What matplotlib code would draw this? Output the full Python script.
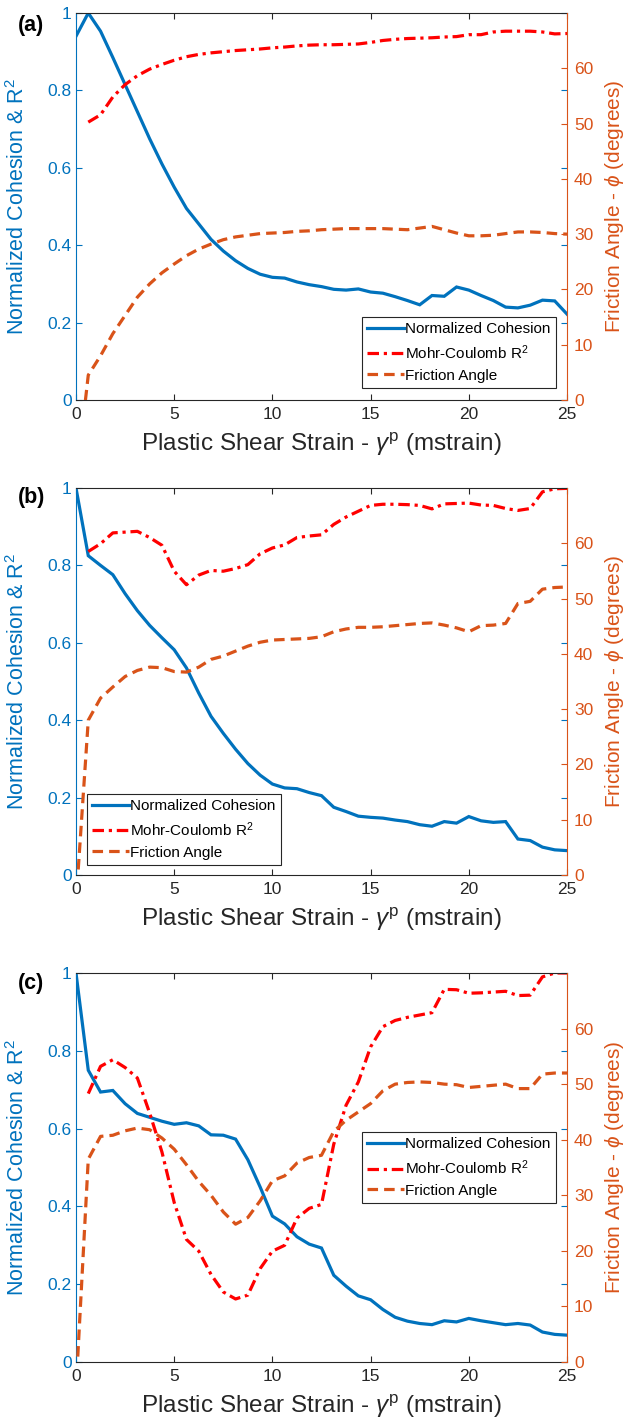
import matplotlib
matplotlib.use("Agg")
import matplotlib.pyplot as plt
import numpy as np

plt.rcParams['font.family'] = ['Liberation Sans', 'DejaVu Sans']
plt.rcParams['mathtext.fontset'] = 'custom'
plt.rcParams['mathtext.rm'] = 'Liberation Sans'
plt.rcParams['mathtext.it'] = 'Liberation Sans:italic'
plt.rcParams['mathtext.bf'] = 'Liberation Sans:bold'

# plastic shear strain (mstrain)
strain = np.linspace(0, 25, 41)

# ---- (a) ----
cohesion_a = [0.94, 1.0, 0.953, 0.885, 0.815, 0.745, 0.675, 0.61, 0.55, 0.495,
              0.455, 0.415, 0.385, 0.36, 0.34, 0.325, 0.317, 0.315, 0.305, 0.298,
              0.293, 0.286, 0.284, 0.287, 0.279, 0.276, 0.267, 0.257, 0.246, 0.270,
              0.268, 0.292, 0.284, 0.270, 0.257, 0.240, 0.238, 0.245, 0.258, 0.256,
              0.222]
r2_a = [np.nan, 0.718, 0.737, 0.783, 0.815, 0.838, 0.855, 0.867, 0.878, 0.887,
        0.893, 0.897, 0.900, 0.903, 0.905, 0.907, 0.910, 0.912, 0.915, 0.917,
        0.918, 0.918, 0.919, 0.920, 0.924, 0.929, 0.932, 0.934, 0.935, 0.936,
        0.938, 0.939, 0.944, 0.944, 0.951, 0.953, 0.953, 0.953, 0.951, 0.946,
        0.947]
phi_a = [-15, 4.5, 8.0, 12.0, 15.3, 18.6, 21.0, 23.0, 24.6, 26.1,
         27.3, 28.2, 29.0, 29.5, 29.8, 30.1, 30.2, 30.3, 30.5, 30.6,
         30.8, 30.9, 31.0, 31.0, 31.0, 31.0, 30.9, 30.8, 31.1, 31.4,
         30.8, 30.2, 29.7, 29.7, 29.8, 30.1, 30.4, 30.4, 30.3, 30.1,
         30.0]

# ---- (b) ----
cohesion_b = [1.0, 0.825, 0.80, 0.776, 0.727, 0.683, 0.645, 0.613, 0.582, 0.535,
              0.47, 0.41, 0.366, 0.325, 0.288, 0.258, 0.235, 0.225, 0.223, 0.213,
              0.205, 0.175, 0.164, 0.152, 0.149, 0.147, 0.142, 0.138, 0.130, 0.126,
              0.138, 0.134, 0.151, 0.140, 0.136, 0.138, 0.093, 0.089, 0.072, 0.065,
              0.063]
r2_b = [np.nan, 0.836, 0.856, 0.884, 0.886, 0.888, 0.872, 0.852, 0.785, 0.75,
        0.775, 0.787, 0.785, 0.792, 0.802, 0.83, 0.845, 0.853, 0.872, 0.876,
        0.879, 0.906, 0.925, 0.94, 0.955, 0.958, 0.958, 0.957, 0.955, 0.946,
        0.959, 0.960, 0.961, 0.956, 0.955, 0.947, 0.942, 0.947, 0.99, 0.998,
        0.999]
phi_b = [-5, 28.0, 32.0, 34.0, 35.9, 37.0, 37.6, 37.5, 36.8, 36.7,
         37.6, 39.0, 39.6, 40.5, 41.4, 42.1, 42.5, 42.6, 42.7, 42.8,
         43.1, 44.0, 44.5, 44.8, 44.8, 44.9, 45.1, 45.3, 45.5, 45.6,
         45.2, 44.7, 44.0, 45.1, 45.2, 45.5, 49.1, 49.5, 51.7, 52.0,
         52.1]

# ---- (c) ----
cohesion_c = [1.0, 0.75, 0.694, 0.698, 0.664, 0.639, 0.629, 0.619, 0.611, 0.615,
              0.607, 0.584, 0.583, 0.573, 0.52, 0.45, 0.375, 0.355, 0.322, 0.303,
              0.293, 0.223, 0.195, 0.17, 0.16, 0.135, 0.115, 0.105, 0.099, 0.096,
              0.106, 0.103, 0.112, 0.106, 0.101, 0.096, 0.099, 0.095, 0.077, 0.071,
              0.069]
r2_c = [np.nan, 0.69, 0.76, 0.777, 0.757, 0.73, 0.64, 0.54, 0.41, 0.315,
        0.285, 0.225, 0.18, 0.162, 0.172, 0.24, 0.285, 0.30, 0.37, 0.395,
        0.405, 0.56, 0.66, 0.72, 0.81, 0.862, 0.878, 0.886, 0.892, 0.898,
        0.958, 0.957, 0.948, 0.949, 0.951, 0.953, 0.942, 0.943, 0.99, 1.0,
        1.0]
phi_c = [-5, 36.5, 40.6, 40.8, 41.6, 42.1, 41.8, 40.3, 38.3, 35.5,
         32.5, 30.0, 27.0, 24.8, 26.0, 29.0, 32.6, 33.5, 35.8, 36.8,
         37.2, 41.5, 43.5, 45.0, 46.5, 48.8, 50.0, 50.3, 50.4, 50.3,
         50.0, 49.9, 49.4, 49.6, 49.8, 50.0, 49.2, 49.2, 51.8, 52.0,
         52.0]

panel_labels = ['(a)', '(b)', '(c)']
x_ticks = [0, 5, 10, 15, 20, 25]
left_ticks = [0, 0.2, 0.4, 0.6, 0.8, 1]
left_tick_labels = ['0', '0.2', '0.4', '0.6', '0.8', '1']
right_ticks = [0, 10, 20, 30, 40, 50, 60]

series_names = ['Normalized Cohesion', 'Mohr-Coulomb R$^2$', 'Friction Angle']

BLUE = '#0072BD'
RED = '#FF0000'
ORANGE = '#D95319'
DARK = '#262626'

W, H = 627, 1422
fig = plt.figure(figsize=(W / 100, H / 100), dpi=100)

# axes boxes in pixels: (left, top, right, bottom)
boxes = [(76, 13, 567, 400), (76, 488, 567, 875), (76, 973, 567, 1362)]
legend_specs = [
    dict(loc='lower right', bbox_to_anchor=(0.978, 0.031)),
    dict(loc='lower left', bbox_to_anchor=(0.022, 0.026)),
    dict(loc='upper right', bbox_to_anchor=(0.978, 0.591)),
]
label_y = [25, 497, 983]

data = [(cohesion_a, r2_a, phi_a), (cohesion_b, r2_b, phi_b), (cohesion_c, r2_c, phi_c)]

for k, ((l, t, r, b), (coh, r2, phi)) in enumerate(zip(boxes, data)):
    ax = fig.add_axes([l / W, 1 - b / H, (r - l) / W, (b - t) / H])
    ax2 = ax.twinx()

    h1, = ax.plot(strain, coh, color=BLUE, lw=2.3, solid_joinstyle='miter')
    h2, = ax.plot(strain, r2, color=RED, lw=2.3, dashes=(3.6, 1.5, 1.0, 1.5))
    h3, = ax2.plot(strain, phi, color=ORANGE, lw=2.3, dashes=(3.3, 1.9))

    ax.set_xlim(0, 25)
    ax.set_ylim(0, 1)
    ax2.set_ylim(0, 70)
    ax.set_xticks(x_ticks)
    ax.set_yticks(left_ticks)
    ax.set_yticklabels(left_tick_labels)
    ax2.set_yticks(right_ticks)

    ax.tick_params(axis='x', which='both', direction='in', top=True, bottom=True,
                   length=4, width=0.8, color=DARK, labelcolor=DARK,
                   labelsize=12.5, pad=5)
    ax.tick_params(axis='y', direction='in', left=True, right=True, length=4,
                   width=0.8, color=BLUE, labelcolor=BLUE, labelsize=12.5, pad=3)
    ax2.tick_params(axis='y', direction='in', right=True, length=4, width=0.8,
                    color=ORANGE, labelcolor=ORANGE, labelsize=12.5, pad=5)

    for s in ('top', 'bottom'):
        ax.spines[s].set_color(DARK)
        ax.spines[s].set_linewidth(0.8)
    ax.spines['left'].set_color(BLUE)
    ax.spines['left'].set_linewidth(0.8)
    ax.spines['right'].set_visible(False)
    for s in ('left', 'top', 'bottom'):
        ax2.spines[s].set_visible(False)
    ax2.spines['right'].set_color(ORANGE)
    ax2.spines['right'].set_linewidth(0.8)

    ax.set_xlabel(r'Plastic Shear Strain - $\gamma^{\mathrm{p}}$ (mstrain)',
                  fontsize=17.5, color=DARK)
    ax.xaxis.set_label_coords(0.5, -51 / (b - t))
    ax.xaxis.label.set_verticalalignment('baseline')

    ax.set_ylabel('Normalized Cohesion & R$^2$', fontsize=15.5, color=BLUE)
    ax.yaxis.set_label_coords((18 - l) / (r - l), 0.5)
    ax.yaxis.label.set_verticalalignment('center')
    ax2.set_ylabel(r'Friction Angle - $\phi$ (degrees)', fontsize=15,
                   color=ORANGE, rotation=90)
    ax2.yaxis.set_label_coords((614 - l) / (r - l), 0.5)
    ax2.yaxis.label.set_verticalalignment('center')

    leg = ax2.legend([h1, h2, h3], series_names, fontsize=11,
                     frameon=True, fancybox=False, edgecolor=DARK,
                     framealpha=1, handlelength=2.4, handletextpad=0.1,
                     borderpad=0.35, labelspacing=0.45, borderaxespad=0,
                     **legend_specs[k])
    leg.get_frame().set_linewidth(0.8)

    fig.text(18 / W, 1 - label_y[k] / H, panel_labels[k], fontsize=15.5,
             fontweight='bold', ha='left', va='center', color='black')

fig.savefig('out.png', dpi=100)
